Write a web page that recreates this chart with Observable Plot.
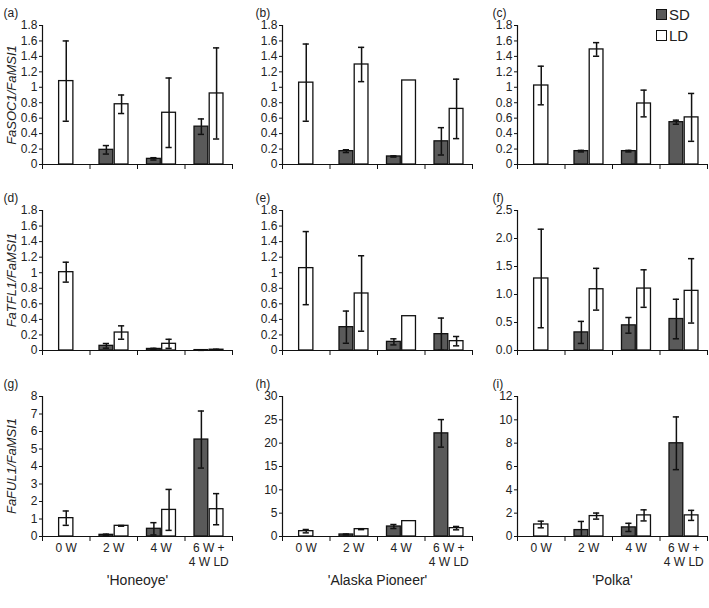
<!DOCTYPE html>
<html><head><meta charset="utf-8">
<script src="https://cdn.jsdelivr.net/npm/d3@7"></script>
<script src="https://cdn.jsdelivr.net/npm/@observablehq/plot@0.6"></script>
<style>
body{margin:0;background:#fff;}
#root{position:relative;width:709px;height:608px;font-family:"Liberation Sans",Arial,sans-serif;color:#222;}
#root .p{position:absolute;}
.leg{position:absolute;font-size:15px;line-height:15px;}
.box{position:absolute;width:9px;height:9px;border:1px solid #111;}
.ytitle{position:absolute;width:160px;text-align:center;font-size:13px;font-style:italic;line-height:14px;transform:translate(-50%,-50%) rotate(-90deg);white-space:nowrap;}
</style></head><body><div id="root"></div>
<script>
const groups = ["0 W", "2 W", "4 W", "6 W +\n4 W LD"];
const cultivars = ["'Honeoye'", "'Alaska Pioneer'", "'Polka'"];
const genes = ["FaSOC1/FaMSI1", "FaTFL1/FaMSI1", "FaFUL1/FaMSI1"];
const panelLabels = [["(a)", "(b)", "(c)"], ["(d)", "(e)", "(f)"], ["(g)", "(h)", "(i)"]];
const seriesNames = ["SD", "LD"];

// [mean, error] per group; null = no SD sample at 0 W
const aSD = [null, [0.19, 0.055], [0.073, 0.015], [0.49, 0.10]];
const aLD = [[1.08, 0.52], [0.78, 0.12], [0.67, 0.45], [0.92, 0.59]];
const bSD = [null, [0.173, 0.018], [0.104, 0.008], [0.30, 0.177]];
const bLD = [[1.06, 0.50], [1.295, 0.222], [1.088, 0], [0.72, 0.385]];
const cSD = [null, [0.173, 0.01], [0.173, 0.01], [0.548, 0.026]];
const cLD = [[1.023, 0.25], [1.49, 0.088], [0.79, 0.173], [0.61, 0.31]];
const dSD = [null, [0.06, 0.03], [0.02, 0.008], [0.005, 0.003]];
const dLD = [[1.007, 0.128], [0.231, 0.086], [0.086, 0.058], [0.01, 0.006]];
const eSD = [null, [0.30, 0.207], [0.111, 0.039], [0.21, 0.207]];
const eLD = [[1.059, 0.47], [0.733, 0.485], [0.441, 0], [0.12, 0.06]];
const fSD = [null, [0.323, 0.197], [0.449, 0.14], [0.562, 0.353]];
const fLD = [[1.286, 0.88], [1.094, 0.373], [1.106, 0.335], [1.065, 0.575]];
const gSD = [null, [0.095, 0.04], [0.44, 0.35], [5.54, 1.63]];
const gLD = [[1.048, 0.41], [0.61, 0.02], [1.52, 1.17], [1.56, 0.89]];
const hSD = [null, [0.43, 0.1], [2.14, 0.43], [22.1, 2.95]];
const hLD = [[1.14, 0.36], [1.57, 0.1], [3.29, 0], [1.79, 0.36]];
const iSD = [null, [0.55, 0.74], [0.78, 0.35], [7.99, 2.26]];
const iLD = [[1.03, 0.285], [1.75, 0.26], [1.81, 0.475], [1.81, 0.43]];

const yMax = [[1.8, 1.8, 1.8], [1.8, 1.8, 2.5], [8, 30, 12]];
const yStep = [[0.2, 0.2, 0.2], [0.2, 0.2, 0.5], [1, 5, 2]];

const SD = [[aSD, bSD, cSD], [dSD, eSD, fSD], [gSD, hSD, iSD]];
const LD = [[aLD, bLD, cLD], [dLD, eLD, fLD], [gLD, hLD, iLD]];

const SD_FILL = "#5a5a5a";
const colLeft = [0, 240, 475];
const rowTop = [0, 185, 371];
const rowH = [175, 175, 237];
const rowMB = [11, 10, 72];
const MT = 25;
const labelDx = [-39, -27, -25];

const root = document.getElementById("root");

function makePanel(r, c) {
  const sd = SD[r][c], ld = LD[r][c];
  const rows = [];
  groups.forEach((g, i) => {
    const single = sd[i] == null;
    if (!single) rows.push({s: "SD", x1: i + 0.2, x2: i + 0.49, v: sd[i][0], e: sd[i][1]});
    const off = single ? [0.35, 0.65] : [0.52, 0.81];
    rows.push({s: "LD", x1: i + off[0], x2: i + off[1], v: ld[i][0], e: ld[i][1]});
  });
  rows.forEach(d => { d.c = (d.x1 + d.x2) / 2; d.lo = Math.max(0, d.v - d.e); d.hi = d.v + d.e; });
  const errs = rows.filter(d => d.e > 0);
  const step = yStep[r][c];
  const n = Math.round(yMax[r][c] / step);
  const ticks = d3.range(n + 1).map(k => +(k * step).toFixed(4));
  const fmt = (r === 1 && c === 2) ? d3.format(".1f") : d3.format("~g");

  const marks = [
    Plot.rect(rows.filter(d => d.s === "SD"), {x1: "x1", x2: "x2", y1: 0, y2: "v", fill: SD_FILL, stroke: "#111", strokeWidth: 1.3}),
    Plot.rect(rows.filter(d => d.s === "LD"), {x1: "x1", x2: "x2", y1: 0, y2: "v", fill: "#fff", stroke: "#111", strokeWidth: 1.3}),
    Plot.ruleX(errs, {x: "c", y1: "lo", y2: "hi", stroke: "#111", strokeWidth: 1.5}),
    Plot.ruleY(errs, {y: "hi", x1: d => d.c - 0.065, x2: d => d.c + 0.065, stroke: "#111", strokeWidth: 1.5}),
    Plot.ruleY(errs.filter(d => d.v - d.e > 0), {y: "lo", x1: d => d.c - 0.065, x2: d => d.c + 0.065, stroke: "#111", strokeWidth: 1.5}),
    Plot.ruleX([0], {stroke: "#111", strokeWidth: 1.2}),
    Plot.ruleY([0], {stroke: "#111", strokeWidth: 1.2}),
    Plot.axisY({ticks, tickFormat: fmt, tickSize: 3, tickPadding: 2, label: null, stroke: "#111", fill: "#222"}),
    Plot.axisX({ticks: [0, 1, 2, 3, 4], tickSize: 5, tickFormat: () => "", label: null, stroke: "#111"}),
    Plot.text([panelLabels[r][c]], {frameAnchor: "top-left", dx: labelDx[c], dy: -17, textAnchor: "start", fontSize: 12, fill: "#222"})
  ];
  if (r === 2) {
    marks.push(Plot.text(groups, {x: (d, i) => i + 0.5, frameAnchor: "bottom", lineAnchor: "top", dy: 5, lineHeight: 1.2, fontSize: 12, fill: "#222"}));
    marks.push(Plot.text([cultivars[c]], {x: () => 2, frameAnchor: "bottom", dy: 48, fontSize: 14, fill: "#222"}));
  }

  const svg = Plot.plot({
    width: 234,
    height: rowH[r],
    marginLeft: 42,
    marginRight: 2,
    marginTop: MT,
    marginBottom: rowMB[r],
    x: {type: "linear", domain: [0, 4], axis: null},
    y: {domain: [0, yMax[r][c]], axis: null},
    style: {fontFamily: "Liberation Sans, Arial, sans-serif", fontSize: "12px", color: "#222", background: "transparent", overflow: "visible"},
    marks
  });
  const div = document.createElement("div");
  div.className = "p";
  div.style.left = colLeft[c] + "px";
  div.style.top = rowTop[r] + "px";
  div.appendChild(svg);
  root.appendChild(div);

  if (c === 0) {
    const t = document.createElement("div");
    t.className = "ytitle";
    t.style.left = "12px";
    t.style.top = (rowTop[r] + MT + (rowH[r] - MT - rowMB[r]) / 2) + "px";
    t.textContent = genes[r];
    root.appendChild(t);
  }
}

for (let r = 0; r < 3; r++) for (let c = 0; c < 3; c++) makePanel(r, c);

// legend
const legColors = [SD_FILL, "#fff"];
seriesNames.forEach((s, k) => {
  const box = document.createElement("div");
  box.className = "box";
  box.style.left = "656px";
  box.style.top = (9 + k * 21) + "px";
  box.style.background = legColors[k];
  root.appendChild(box);
  const t = document.createElement("div");
  t.className = "leg";
  t.style.left = "669px";
  t.style.top = (7 + k * 21) + "px";
  t.textContent = s;
  root.appendChild(t);
});
</script>
</body></html>
